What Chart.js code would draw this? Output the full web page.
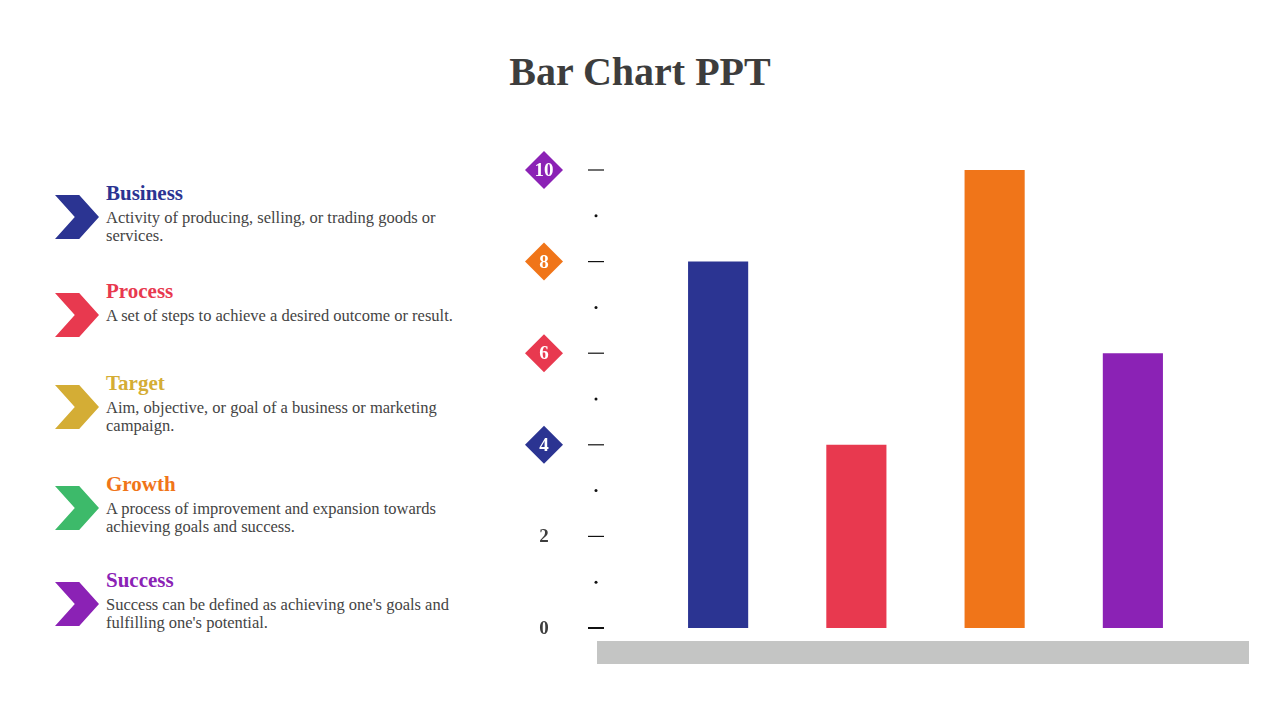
<!DOCTYPE html>
<html>
<head>
<meta charset="utf-8">
<script src="https://cdn.jsdelivr.net/npm/chart.js@4"></script>
<style>
  body { margin:0; width:1280px; height:720px; background:#fff; overflow:hidden; position:relative; font-family:"Liberation Serif", serif; }
  #c { position:absolute; left:0; top:0; }
  h1 { position:absolute; top:48px; left:0; width:1280px; text-align:center; margin:0; font-size:40px; color:#3d3d3d; font-weight:bold; }
  .item { position:absolute; left:55px; width:400px; }
  .arrow { position:absolute; left:0; top:2px; width:44px; height:44px;
           clip-path: polygon(0 0, 55% 0, 100% 50%, 55% 100%, 0 100%, 45% 50%); }
  .head { position:absolute; left:51px; top:-12px; font-size:21px; font-weight:bold; }
  .desc { position:absolute; left:51px; top:16px; font-size:16.5px; color:#444; line-height:18px; width:350px; }
</style>
</head>
<body>
<h1>Bar Chart PPT</h1>
<div id="list"></div>
<canvas id="c" width="1280" height="720"></canvas>
<script>
// donnees du graphique
const categories = ["Business", "Process", "Target", "Growth"];
const valeurs = [8, 4, 10, 6];
const couleurs = ["#2b3492", "#e8394f", "#f07519", "#8b22b5"];
const ticks = [0, 2, 4, 6, 8, 10];
const couleursTicks = [null, null, "#2b3492", "#e8394f", "#f07519", "#8b22b5"];

// la liste a gauche
const titres = ["Business", "Process", "Target", "Growth", "Success"];
const textes = [
  "Activity of producing, selling, or trading goods or services.",
  "A set of steps to achieve a desired outcome or result.",
  "Aim, objective, or goal of a business or marketing campaign.",
  "A process of improvement and expansion towards achieving goals and success.",
  "Success can be defined as achieving one's goals and fulfilling one's potential."
];
const couleursListe = ["#2b3492", "#e8394f", "#d4ad35", "#f07519", "#8b22b5"];
const couleursFleche = ["#2b3492", "#e8394f", "#d4ad35", "#3dba6a", "#8b22b5"];
const hauts = [193, 291, 383, 484, 580];

const list = document.getElementById("list");
for (let i = 0; i < titres.length; i++) {
  const d = document.createElement("div");
  d.className = "item";
  d.style.top = hauts[i] + "px";
  d.innerHTML = '<div class="arrow" style="background:' + couleursFleche[i] + '"></div>' +
    '<div class="head" style="color:' + couleursListe[i] + '">' + titres[i] + '</div>' +
    '<div class="desc">' + textes[i] + '</div>';
  list.appendChild(d);
}

// plugin pour les graduations, losanges et la barre grise
const axePerso = {
  id: "axePerso",
  beforeDatasetsDraw(chart) {
    const ctx = chart.ctx, y = chart.scales.y;
    ctx.save();
    ctx.fillStyle = "#c4c5c4";
    ctx.fillRect(597, y.getPixelForValue(0) + 13, 652, 23);
    ctx.strokeStyle = "#111";
    ctx.fillStyle = "#111";
    for (let v = 0; v <= 10; v++) {
      const py = y.getPixelForValue(v);
      if (v % 2 === 0) {
        ctx.lineWidth = v === 0 ? 2 : 1.2;
        ctx.beginPath(); ctx.moveTo(588, py); ctx.lineTo(604, py); ctx.stroke();
      } else {
        ctx.beginPath(); ctx.arc(596, py, 1.5, 0, Math.PI * 2); ctx.fill();
      }
    }
    ticks.forEach((t, i) => {
      const py = y.getPixelForValue(t);
      const c = couleursTicks[i];
      if (c) {
        ctx.fillStyle = c;
        ctx.beginPath();
        ctx.moveTo(544, py - 19); ctx.lineTo(563, py); ctx.lineTo(544, py + 19); ctx.lineTo(525, py);
        ctx.closePath(); ctx.fill();
        ctx.fillStyle = "#fff";
      } else {
        ctx.fillStyle = "#3d3d3d";
      }
      ctx.font = "bold 19px 'Liberation Serif'";
      ctx.textAlign = "center"; ctx.textBaseline = "middle";
      ctx.fillText(String(t), 544, py + 1);
    });
    ctx.restore();
  }
};

new Chart("c", {
  type: "bar",
  data: {
    labels: categories,
    datasets: [{ data: valeurs, backgroundColor: couleurs, barPercentage: 0.435, categoryPercentage: 1 }]
  },
  options: {
    responsive: false,
    animation: false,
    layout: { padding: { left: 649, right: 78, top: 170, bottom: 92 } },
    scales: {
      x: { display: false },
      y: { display: false, min: 0, max: 10 }
    },
    plugins: { legend: { display: false }, tooltip: { enabled: false } }
  },
  plugins: [axePerso]
});
</script>
</body>
</html>
